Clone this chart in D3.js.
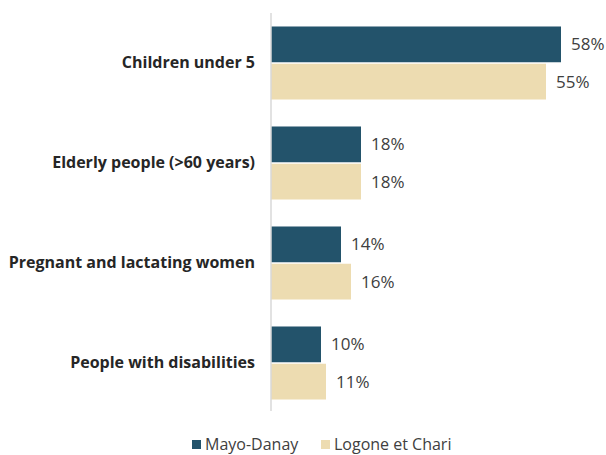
<!DOCTYPE html>
<html>
<head>
<meta charset="utf-8">
<script src="https://cdn.jsdelivr.net/npm/d3@7"></script>
<style>
  body { margin: 0; background: #fff; }
  svg { display: block; font-family: "Open Sans", sans-serif; }
</style>
</head>
<body>
<svg id="chart" width="606" height="455"></svg>
<script>
// Vulnerable groups, share of households (%)
const categories = ["Children under 5", "Elderly people (>60 years)", "Pregnant and lactating women", "People with disabilities"];
const seriesNames = ["Mayo-Danay", "Logone et Chari"];
const mayoDanay = [58, 18, 14, 10];
const logoneEtChari = [55, 18, 16, 11];
const colors = ["#23536b", "#eddcb1"];

const series = [mayoDanay, logoneEtChari];
const svg = d3.select("#chart");

const x = d3.scaleLinear().domain([0, 58]).range([271, 561]);
const y0 = d3.scaleBand().domain(categories).range([13, 413]).paddingInner(0.24).paddingOuter(0.12);
const y1 = d3.scaleBand().domain(seriesNames).range([0, y0.bandwidth()]).padding(0.04);

const groups = svg.selectAll("g.group")
  .data(categories)
  .join("g")
  .attr("class", "group")
  .attr("transform", d => `translate(0,${y0(d)})`);

groups.selectAll("rect")
  .data((d, i) => seriesNames.map((s, j) => ({ s, j, v: series[j][i] })))
  .join("rect")
  .attr("x", x(0))
  .attr("y", d => y1(d.s))
  .attr("width", d => x(d.v) - x(0))
  .attr("height", y1.bandwidth())
  .attr("fill", d => colors[d.j]);

groups.selectAll("text.val")
  .data((d, i) => seriesNames.map((s, j) => ({ s, j, v: series[j][i] })))
  .join("text")
  .attr("class", "val")
  .attr("x", d => x(d.v) + 10)
  .attr("y", d => y1(d.s) + y1.bandwidth() / 2)
  .attr("dy", "0.36em")
  .attr("font-size", 17)
  .attr("fill", "#404040")
  .text(d => d.v + "%");

// category axis
const yAxis = d3.axisLeft(y0).tickSize(0).tickPadding(16);
const ax = svg.append("g").attr("transform", `translate(${x(0)},0)`).call(yAxis);
ax.select(".domain").remove();
ax.selectAll("text")
  .attr("font-family", "'Open Sans', sans-serif")
  .attr("font-size", 16)
  .attr("font-weight", "bold")
  .attr("fill", "#262626");

svg.append("line")
  .attr("x1", x(0)).attr("x2", x(0))
  .attr("y1", 13).attr("y2", 411)
  .attr("stroke", "#d9d9d9")
  .attr("stroke-width", 1.5);

// legend
const legend = svg.append("g").attr("transform", "translate(0,444)");
const legendX = [192, 321];
seriesNames.forEach((s, j) => {
  legend.append("rect")
    .attr("x", legendX[j]).attr("y", -4)
    .attr("width", 9).attr("height", 9)
    .attr("fill", colors[j]);
  legend.append("text")
    .attr("x", legendX[j] + 13).attr("y", 0)
    .attr("dy", "0.35em")
    .attr("font-size", 16)
    .attr("fill", "#404040")
    .text(s);
});
</script>
</body>
</html>
